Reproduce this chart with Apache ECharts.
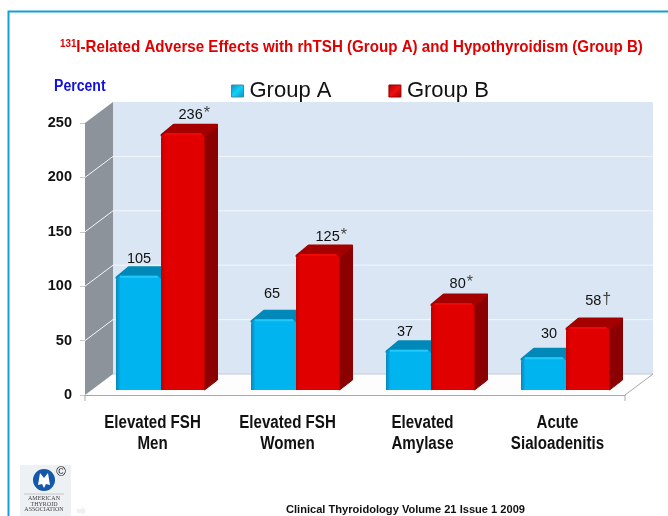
<!DOCTYPE html>
<html>
<head>
<meta charset="utf-8">
<style>
  html, body { margin: 0; padding: 0; background: #fff; }
  #chart { width: 668px; height: 516px; }
</style>
<script src="https://cdn.jsdelivr.net/npm/echarts@6/dist/echarts.min.js"></script>
</head>
<body>
<div id="chart"></div>
<script>
var categories = ['Elevated FSH\nMen', 'Elevated FSH\nWomen', 'Elevated\nAmylase', 'Acute\nSialoadenitis'];
var groupA = [105, 65, 37, 30];
var groupB = [236, 125, 80, 58];
var groupBMarks = ['*', '*', '*', '†'];
var yTicks = [0, 50, 100, 150, 200, 250];

var SANS = '"Liberation Sans", Arial, sans-serif';
var SERIF = '"Liberation Serif", serif';
var WALL_DX = 28, WALL_DY = 21; // depth of the back wall
var BAR_DX = 13, BAR_DY = 10;   // depth of one bar
var BAR_W = 44, BAR_LIFT = 5;
var NARROW_X = 0.84;            // no narrow font installed, squeeze the text instead

// the value labels sit a little off centre in the original
var labelNudgeA = [[-6, 2], [-8, -6], [-10, 1], [-1, -4]];
var labelNudgeB = [[5, 1], [7, 2], [2, 0], [4, -7]];

function hGrad(a, b, c) {
  return new echarts.graphic.LinearGradient(0, 0, 1, 0, [
    { offset: 0, color: a },
    { offset: 0.1, color: b },
    { offset: 1, color: c }
  ]);
}

function iconGrad(a, b) {
  return new echarts.graphic.LinearGradient(0, 0, 1, 1, [
    { offset: 0, color: b },
    { offset: 0.5, color: a },
    { offset: 1, color: b }
  ]);
}

// walls, floor and grid lines of the fake 3d box
function renderWalls(params, api) {
  var g = params.coordSys;
  var left = g.x, right = g.x + g.width, top = g.y, bottom = g.y + g.height;
  var kids = [
    { type: 'rect', shape: { x: left + WALL_DX, y: top - WALL_DY, width: g.width, height: g.height }, style: { fill: '#dae6f3' } },
    { type: 'polygon', shape: { points: [[left, bottom], [left + WALL_DX, bottom - WALL_DY], [right + WALL_DX, bottom - WALL_DY], [right, bottom]] }, style: { fill: '#fdfdfd' } },
    { type: 'polygon', shape: { points: [[left, top], [left + WALL_DX, top - WALL_DY], [left + WALL_DX, bottom - WALL_DY], [left, bottom]] }, style: { fill: '#8c939b' } }
  ];
  yTicks.forEach(function (t) {
    var y = api.coord([0, t])[1];
    if (t > 0 && t < 250) {
      kids.push({ type: 'polyline', shape: { points: [[left, y], [left + WALL_DX, y - WALL_DY], [right + WALL_DX, y - WALL_DY]] }, style: { fill: null, stroke: '#f4f7fb', lineWidth: 1 } });
    }
  });
  kids.push({ type: 'line', shape: { x1: left + WALL_DX, y1: bottom - WALL_DY, x2: right + WALL_DX, y2: bottom - WALL_DY }, style: { stroke: '#c4ccd4', lineWidth: 1 } });
  kids.push({ type: 'line', shape: { x1: right, y1: bottom, x2: right + WALL_DX, y2: bottom - WALL_DY }, style: { stroke: '#a8a8a8', lineWidth: 1 } });
  kids.push({ type: 'line', shape: { x1: left, y1: bottom, x2: left, y2: bottom + 6 }, style: { stroke: '#a8a8a8', lineWidth: 1 } });
  kids.push({ type: 'line', shape: { x1: right, y1: bottom, x2: right, y2: bottom + 6 }, style: { stroke: '#a8a8a8', lineWidth: 1 } });
  return { type: 'group', children: kids };
}

function barRenderer(offset, width, colors, nudge, marks) {
  return function (params, api) {
    var i = api.value(0);
    var v = api.value(1);
    var p = api.coord([i, v]);
    var base = api.coord([i, 0])[1] - BAR_LIFT;
    var x = Math.round(p[0] + offset);
    var y = p[1] - BAR_LIFT;
    var kids = [
      // side
      { type: 'polygon', shape: { points: [[x + width, y + 1], [x + width + BAR_DX, y - BAR_DY + 1], [x + width + BAR_DX, base - BAR_DY], [x + width, base]] }, style: { fill: colors.side, stroke: colors.side, lineWidth: 1, lineJoin: 'round' } },
      // top
      { type: 'polygon', shape: { points: [[x + 1, y + 2], [x + BAR_DX, y - BAR_DY + 2], [x + width + BAR_DX - 1, y - BAR_DY + 2], [x + width, y + 2]] }, style: { fill: colors.top, stroke: colors.top, lineWidth: 3, lineJoin: 'round' } },
      // front
      { type: 'rect', shape: { x: x, y: y, width: width, height: base - y, r: [5, 5, 0, 0] }, style: { fill: hGrad(colors.edge, colors.front, colors.front) } },
      { type: 'line', shape: { x1: x + 4, y1: y + 1, x2: x + width - 3, y2: y + 1 }, style: { stroke: colors.shine, lineWidth: 2 } }
    ];
    var mark = marks ? marks[params.dataIndex] : '';
    var n = nudge[params.dataIndex];
    kids.push({
      type: 'text',
      style: {
        x: x + width / 2 + BAR_DX / 2 + n[0],
        y: y - BAR_DY - 9 + n[1],
        text: '{n|' + v + '}' + (mark ? '{m|' + mark + '}' : ''),
        align: 'center',
        verticalAlign: 'middle',
        rich: {
          n: { fontFamily: SANS, fontSize: 14.5, fill: '#111' },
          m: { fontFamily: SANS, fontSize: 16, fill: '#444', verticalAlign: 'top', padding: [0, 0, 3, 1] }
        }
      }
    });
    return { type: 'group', children: kids };
  };
}

// category labels, drawn here so they can be squeezed like the y axis is not
function renderCategoryLabel(params, api) {
  var i = api.value(0);
  var p = api.coord([i, 0]);
  return {
    type: 'text',
    x: p[0],
    y: p[1] + 39,
    scaleX: NARROW_X,
    style: {
      text: categories[i],
      align: 'center',
      verticalAlign: 'middle',
      fontFamily: SANS,
      fontWeight: 'bold',
      fontSize: 18,
      lineHeight: 21,
      fill: '#111'
    }
  };
}

function pairs(arr) {
  return arr.map(function (v, i) { return [i, v]; });
}

var chart = echarts.init(document.getElementById('chart'));
chart.setOption({
  animation: false,
  backgroundColor: '#fff',
  legend: {
    left: 231, top: 80, padding: 0,
    itemWidth: 12, itemHeight: 12, itemGap: 57,
    textStyle: { fontFamily: SANS, fontSize: 22, color: '#111', padding: [0, 0, 0, 1] },
    data: [
      { name: 'Group A', icon: 'rect', itemStyle: { color: iconGrad('#12d0fa', '#0a90bc'), borderColor: '#4a8aa0', borderWidth: 1 } },
      { name: 'Group B', icon: 'rect', itemStyle: { color: iconGrad('#f01010', '#a80000'), borderColor: '#960000', borderWidth: 1 } }
    ]
  },
  grid: { left: 85, right: 43, top: 123, bottom: 121 },
  xAxis: {
    type: 'category',
    data: categories,
    axisLine: { show: true, lineStyle: { color: '#a8a8a8', width: 1 } },
    axisTick: { show: false },
    axisLabel: { show: false }
  },
  yAxis: {
    type: 'value',
    min: 0, max: 250, interval: 50,
    axisLine: { show: false },
    axisTick: { show: true, length: 5, lineStyle: { color: '#c8c8c8' } },
    axisLabel: { fontFamily: SANS, fontWeight: 'bold', fontSize: 14.5, color: '#111', margin: 13 },
    splitLine: { show: false }
  },
  series: [
    { type: 'custom', name: 'walls', silent: true, data: [[0, 0]], renderItem: renderWalls, z: 1 },
    {
      type: 'custom', name: 'Group A', data: pairs(groupA), z: 2,
      itemStyle: { color: '#00b4f0' },
      renderItem: barRenderer(-36.5, 45, { front: '#00b4f0', edge: '#0a86b8', side: '#006f96', top: '#0088b8', shine: '#22c8fa' }, labelNudgeA)
    },
    {
      type: 'custom', name: 'Group B', data: pairs(groupB), z: 3,
      itemStyle: { color: '#e00000' },
      renderItem: barRenderer(8.5, 43.5, { front: '#e00000', edge: '#c00000', side: '#8b0000', top: '#a50000', shine: '#f00808' }, labelNudgeB, groupBMarks)
    },
    { type: 'custom', name: 'labels', silent: true, data: pairs(groupA), renderItem: renderCategoryLabel, z: 4 }
  ],
  graphic: [
    // frame
    { type: 'polyline', silent: true, z: 10, shape: { points: [[8.5, 516], [8.5, 11.5], [668, 11.5]] }, style: { fill: null, stroke: '#159fd4', lineWidth: 2 } },
    // texts
    {
      type: 'text', silent: true, x: 60, y: 47, scaleX: 0.89,
      style: {
        text: '{s|131}{t|I-Related Adverse Effects with rhTSH (Group A) and Hypothyroidism (Group B)}',
        verticalAlign: 'middle',
        rich: {
          s: { fontFamily: SANS, fontWeight: 'bold', fontSize: 11, fill: '#e00000', verticalAlign: 'top', padding: [0, 0, 6, 0] },
          t: { fontFamily: SANS, fontWeight: 'bold', fontSize: 17, fill: '#e00000' }
        }
      }
    },
    { type: 'text', silent: true, x: 54, y: 87, scaleX: 0.88, style: { text: 'Percent', verticalAlign: 'middle', fontFamily: SANS, fontWeight: 'bold', fontSize: 16, fill: '#1010e0' } },
    { type: 'text', silent: true, x: 286, y: 509.5, style: { text: 'Clinical Thyroidology Volume 21 Issue 1 2009', verticalAlign: 'middle', fontFamily: SANS, fontWeight: 'bold', fontSize: 11.1, fill: '#111' } },
    // society logo
    { type: 'rect', silent: true, shape: { x: 20, y: 465, width: 51, height: 51 }, style: { fill: '#eef1f3' } },
    { type: 'circle', silent: true, shape: { cx: 44, cy: 480, r: 11 }, style: { fill: '#1557a8' } },
    { type: 'polygon', silent: true, shape: { points: [[40, 473], [44, 478], [48, 473], [50, 485], [46, 484], [44, 488], [42, 484], [38, 485]] }, style: { fill: '#ffffff' } },
    { type: 'text', silent: true, style: { x: 61, y: 472, text: '©', align: 'center', verticalAlign: 'middle', fontFamily: SANS, fontSize: 13, fill: '#111' } },
    { type: 'line', silent: true, shape: { x1: 24, y1: 494, x2: 64, y2: 494 }, style: { stroke: '#999', lineWidth: 0.5 } },
    { type: 'text', silent: true, style: { x: 44, y: 498, text: 'AMERICAN', align: 'center', verticalAlign: 'middle', fontFamily: SERIF, fontSize: 6, fill: '#444' } },
    { type: 'text', silent: true, style: { x: 44, y: 504, text: 'THYROID', align: 'center', verticalAlign: 'middle', fontFamily: SERIF, fontSize: 6, fill: '#444' } },
    { type: 'text', silent: true, style: { x: 44, y: 509.5, text: 'ASSOCIATION', align: 'center', verticalAlign: 'middle', fontFamily: SERIF, fontSize: 6, fill: '#444' } },
    { type: 'polygon', silent: true, shape: { points: [[77, 509], [82, 509], [82, 506], [86, 511], [82, 516], [82, 513], [77, 513]] }, style: { fill: '#f0f0f0' } }
  ]
});
</script>
</body>
</html>
